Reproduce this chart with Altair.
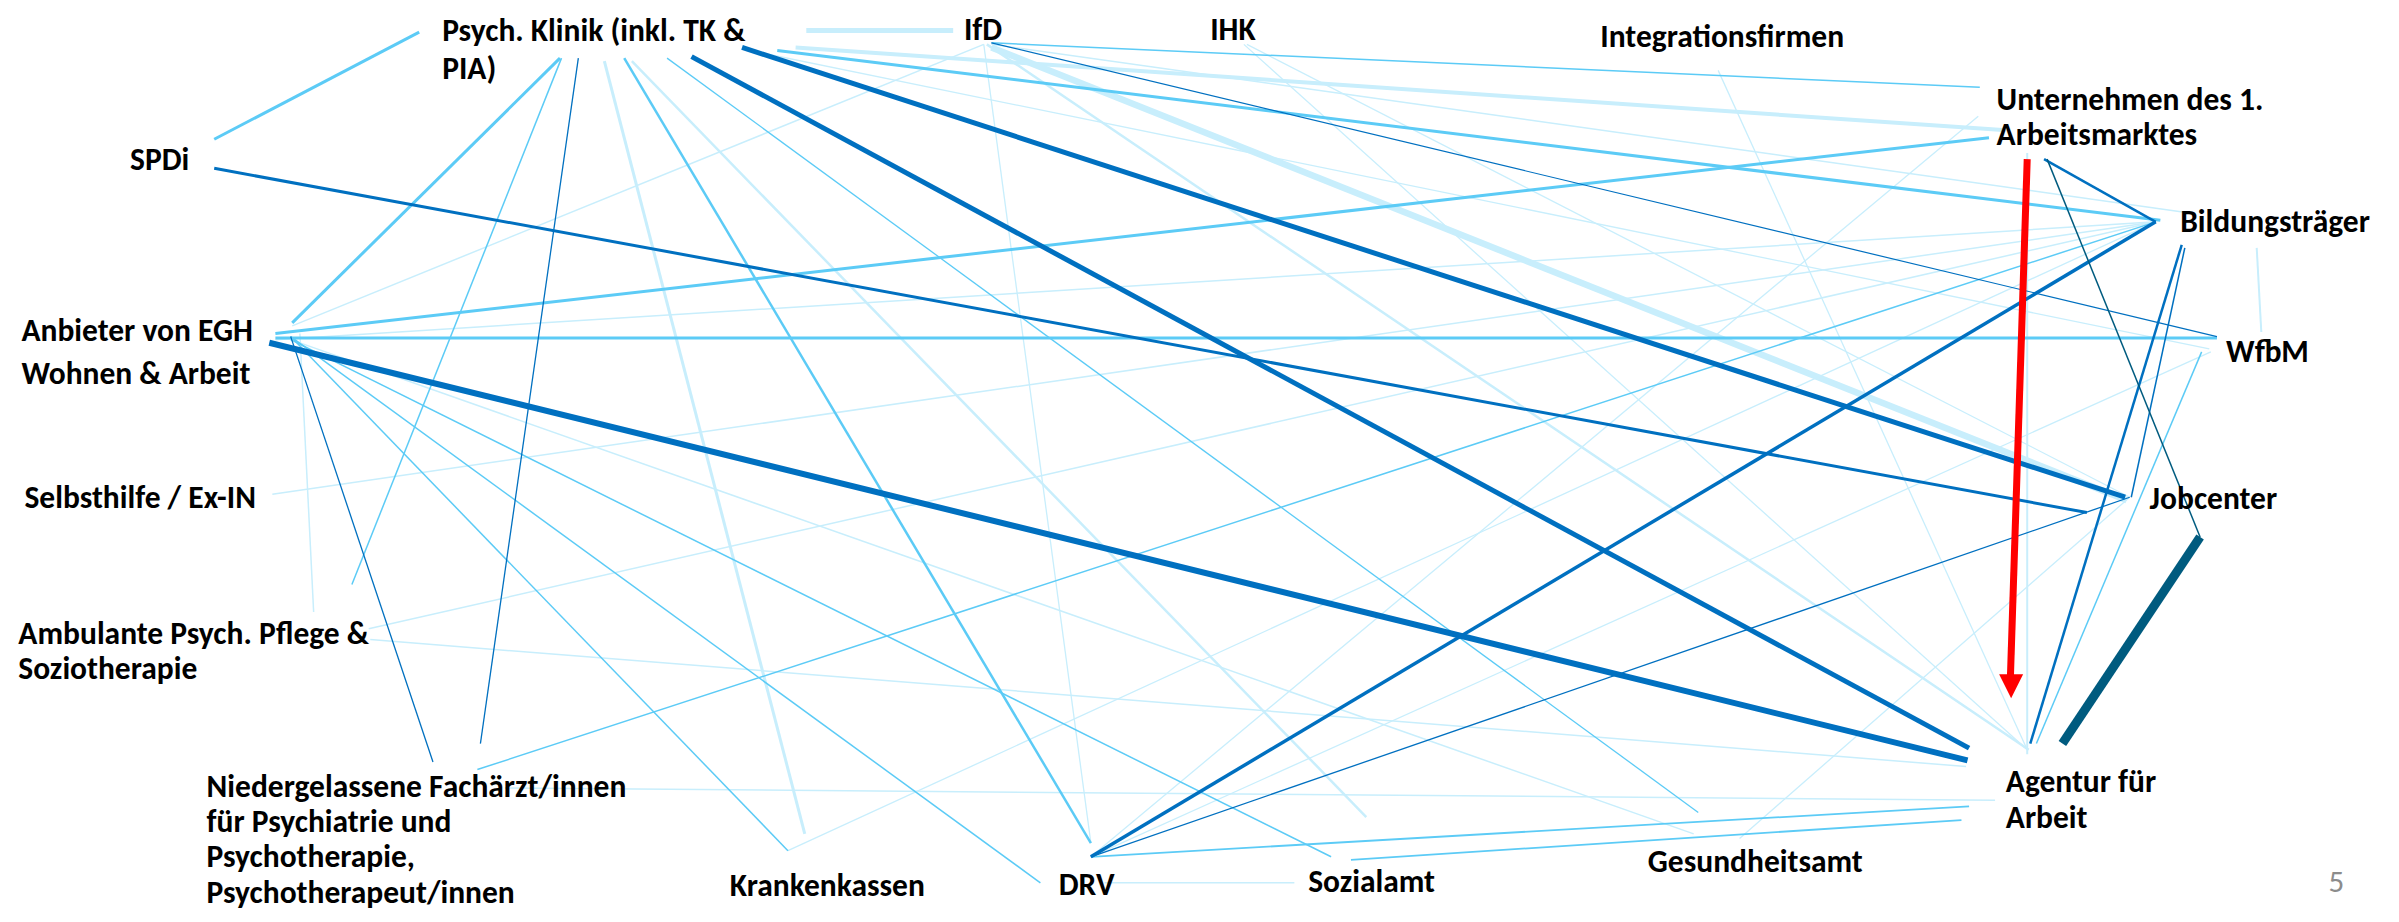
import altair as alt
import pandas as pd

# ---- coordinate frame (reference units: 1568 x 603 picture) ----
K = 2399 / 1568.0
W, H = 2383, 906

# ---- node labels ----
label_text = [
    "Psych. Klinik (inkl. TK &", "PIA)", "IfD", "IHK", "Integrationsfirmen",
    "Unternehmen des 1.", "Arbeitsmarktes", "Bildungsträger", "WfbM", "Jobcenter",
    "Agentur für", "Arbeit", "Gesundheitsamt", "Sozialamt", "DRV", "Krankenkassen",
    "Niedergelassene Fachärzt/innen", "für Psychiatrie und", "Psychotherapie,",
    "Psychotherapeut/innen", "Ambulante Psych. Pflege &", "Soziotherapie",
    "Selbsthilfe / Ex-IN", "Anbieter von EGH", "Wohnen & Arbeit", "SPDi",
]
label_x = [289, 289, 630, 791, 1046, 1305, 1305, 1425, 1455, 1405, 1311, 1311,
           1077, 855, 692, 477, 135, 135, 135, 135, 12, 12, 16, 14, 14, 85]
label_y = [21, 46, 20, 20, 25, 66, 89, 146, 231, 327, 512, 535,
           564, 577, 579, 580, 515, 538, 561, 584, 415, 438, 326, 217, 245, 105]

page_text = ["5"]
page_x = [1522]
page_y = [577]

# ---- edges: start / end points, tone, width ----
e_x1 = [527, 520, 648, 648, 645, 643, 643, 813, 815, 1123, 713, 1325, 1475, 1445,
        180, 196, 190, 241, 242, 178, 330, 515, 395, 413, 722, 1137, 495,
        140, 366, 367, 408, 436, 508, 648, 180, 180, 190, 190, 190, 312, 1439, 713, 883,
        140, 378, 190, 648, 1336, 1409, 1426, 1428, 713, 452, 485, 176,
        1338, 1438,
        1325]
e_y1 = [20, 31, 29, 31, 29, 29, 29, 29, 29, 46, 560, 100, 162, 230,
        222, 218, 222, 411, 418, 323, 515, 556, 40, 40, 577, 548, 34,
        91, 38, 38, 38, 38, 33, 28, 218, 221, 220, 220, 222, 503, 230, 560, 562,
        110, 38, 220, 28, 104, 145, 160, 162, 560, 37, 31, 224,
        104, 351,
        104]
e_x2 = [623, 1309, 1430, 1390, 1326, 191, 713, 1325, 1392, 1325, 1293, 1325, 1478, 713,
        1409, 205, 1107, 1409, 1285, 1409, 1304, 1409, 526, 893, 846, 1392, 1444,
        274, 191, 230, 713, 1110, 1412, 1294, 1300, 1449, 515, 680, 870, 1409, 1331, 1287, 1282,
        1364, 314, 283, 1449, 1409, 713, 1327, 1393, 1392, 1287, 1389, 1286,
        1438, 1348,
        1314]
e_y2 = [20, 85, 139, 327, 490, 213, 551, 490, 325, 490, 76, 493, 217, 560,
        145, 400, 545, 145, 501, 145, 523, 145, 545, 534, 577, 325, 228,
        21, 211, 382, 551, 531, 144, 57, 90, 221, 556, 577, 560, 145, 486, 527, 536,
        335, 486, 498, 220, 145, 560, 486, 325, 325, 489, 325, 497,
        351, 486,
        443]
e_tone = (["light"] * 27 + ["medium"] * 16 + ["dark"] * 12 + ["teal"] * 2 + ["red"])
e_width = [5, 4, 1.5, 6.5, 2.5, 1.5, 1.3, 1.3, 1.3, 1.3, 1.3, 2, 2, 1.3,
           1.5, 1.5, 1.5, 1.5, 1.5, 1.5, 1.5, 1.3, 3, 2.5, 1.5, 1.3, 1.3,
           3, 3, 1.5, 2.5, 1.3, 3, 1.5, 3, 3, 1.5, 1.5, 1.5, 1.5, 1.5, 1.8, 1.8,
           3, 1.3, 1.3, 1.2, 2.5, 3.5, 2.5, 1.5, 1.3, 5, 5, 6,
           1.5, 9,
           7]

arrow_x = [1314.5]
arrow_y = [448.5]

tone_colors = {"light": "#C8EEFC", "medium": "#5CCBF6", "dark": "#0070C0",
               "teal": "#005B7F", "red": "#FF0000"}

edges = pd.DataFrame({
    "x1": e_x1, "y1": e_y1, "x2": e_x2, "y2": e_y2,
    "col": [tone_colors[t] for t in e_tone], "w": e_width,
})
labels = pd.DataFrame({"x": label_x, "y": label_y, "t": label_text})
page = pd.DataFrame({"x": page_x, "y": page_y, "t": page_text})
arrow = pd.DataFrame({"x": arrow_x, "y": arrow_y})

xs = alt.Scale(domain=[8 / K, (8 + W) / K], nice=False, zero=False)
ys = alt.Scale(domain=[8 / K, (8 + H) / K], nice=False, zero=False, reverse=True)

lines = alt.Chart(edges).mark_rule(strokeCap="butt").encode(
    x=alt.X("x1:Q", scale=xs, axis=None),
    y=alt.Y("y1:Q", scale=ys, axis=None),
    x2="x2:Q",
    y2="y2:Q",
    color=alt.Color("col:N", scale=None),
    strokeWidth=alt.StrokeWidth("w:Q", scale=None),
)

head = alt.Chart(arrow).mark_point(
    shape="M-1,-1L1,-1L0,1Z", filled=True, color="#FF0000", size=576,
    opacity=1, strokeWidth=0,
).encode(
    x=alt.X("x:Q", scale=xs, axis=None),
    y=alt.Y("y:Q", scale=ys, axis=None),
)

FONT = "Calibri, Carlito, Lato"
text = alt.Chart(labels).mark_text(
    align="left", baseline="middle", font=FONT, fontSize=31.5,
    fontWeight="bold", color="#000000",
).encode(
    x=alt.X("x:Q", scale=xs, axis=None),
    y=alt.Y("y:Q", scale=ys, axis=None),
    text="t:N",
)

pnum = alt.Chart(page).mark_text(
    align="left", baseline="middle", font=FONT, fontSize=31,
    color="#8C8C8C",
).encode(
    x=alt.X("x:Q", scale=xs, axis=None),
    y=alt.Y("y:Q", scale=ys, axis=None),
    text="t:N",
)

chart = alt.layer(lines, head, text, pnum).properties(
    width=W, height=H, padding=0,
    autosize=alt.AutoSizeParams(type="none"),
).configure_view(stroke=None)

chart.save("out.html", embed_options={"renderer": "svg", "actions": False})
